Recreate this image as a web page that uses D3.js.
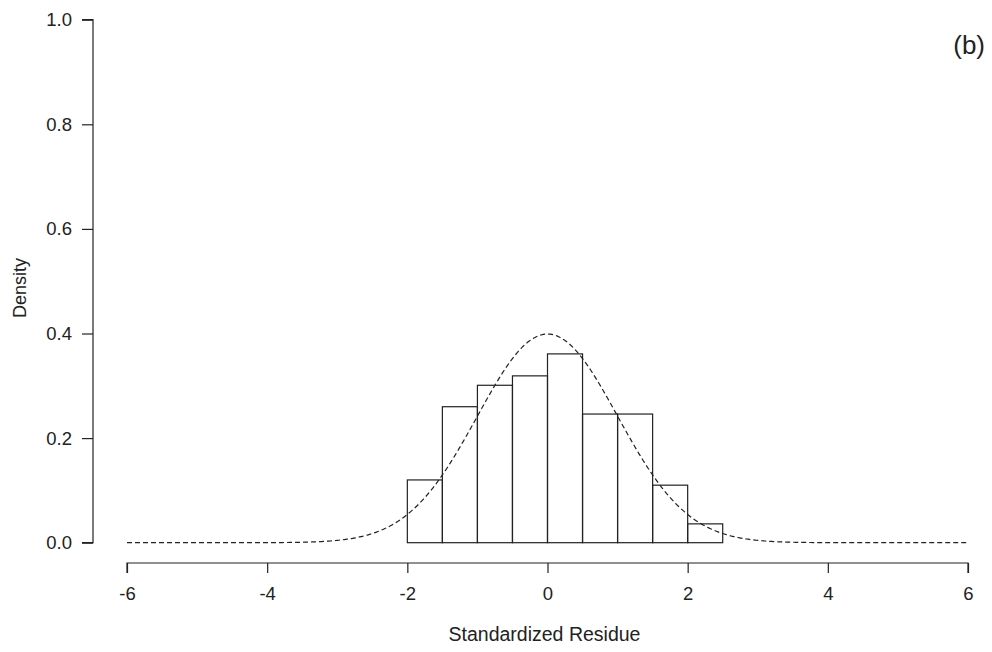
<!DOCTYPE html>
<html>
<head>
<meta charset="utf-8">
<script src="https://cdn.jsdelivr.net/npm/d3@7"></script>
<style>
  html, body { margin: 0; padding: 0; background: #fff; }
  svg { display: block; font-family: "Liberation Sans", Arial, sans-serif; }
</style>
</head>
<body>
<svg id="chart" width="992" height="652"></svg>
<script>
// Histogram bins of standardized residuals (bin width 0.5) and their densities
const binStarts = [-2.0, -1.5, -1.0, -0.5, 0.0, 0.5, 1.0, 1.5, 2.0];
const binWidth = 0.5;
const densities = [0.120, 0.260, 0.301, 0.319, 0.361, 0.246, 0.246, 0.110, 0.036];

// Axis ticks
const xTicks = [-6, -4, -2, 0, 2, 4, 6];
const yTicks = [0.0, 0.2, 0.4, 0.6, 0.8, 1.0];

// Reference standard normal density curve, sampled on a grid
const curveX = d3.range(-6, 6.0001, 0.02);
const normalPdf = x => Math.exp(-x * x / 2) / Math.sqrt(2 * Math.PI);

const svg = d3.select("#chart");
const ink = "#222";

const x = d3.scaleLinear().domain([-6, 6]).range([127, 968]);
const y = d3.scaleLinear().domain([0, 1]).range([542.7, 19.7]);

// Bars
svg.append("g")
  .selectAll("rect")
  .data(binStarts.map((s, i) => ({ x0: s, x1: s + binWidth, d: densities[i] })))
  .join("rect")
  .attr("x", d => x(d.x0))
  .attr("y", d => y(d.d))
  .attr("width", d => x(d.x1) - x(d.x0))
  .attr("height", d => y(0) - y(d.d))
  .attr("fill", "none")
  .attr("stroke", ink)
  .attr("stroke-width", 1.2);

// Normal density curve (dashed)
svg.append("path")
  .datum(curveX)
  .attr("d", d3.line().x(d => x(d)).y(d => y(normalPdf(d))))
  .attr("fill", "none")
  .attr("stroke", ink)
  .attr("stroke-width", 1.2)
  .attr("stroke-dasharray", "5,3");

// X axis (offset below the plot region)
const xAxis = svg.append("g")
  .attr("transform", "translate(0,563)")
  .call(d3.axisBottom(x).tickValues(xTicks).tickSize(10).tickPadding(14).tickFormat(d3.format("d")));
xAxis.select(".domain").attr("stroke", ink).attr("stroke-width", 1.2)
  .attr("d", `M${x(-6)},10V0H${x(6)}V10`);
xAxis.selectAll(".tick line").attr("stroke", ink).attr("stroke-width", 1.2);
xAxis.selectAll(".tick text").attr("fill", ink).style("font-size", "18.5px")
  .text(d => d < 0 ? "-" + Math.abs(d) : d);

// Y axis
const yAxis = svg.append("g")
  .attr("transform", "translate(93,0)")
  .call(d3.axisLeft(y).tickValues(yTicks).tickSize(11).tickPadding(10).tickFormat(d3.format(".1f")));
yAxis.select(".domain").attr("stroke", ink).attr("stroke-width", 1.2)
  .attr("d", `M-11,${y(0)}H0V${y(1)}H-11`);
yAxis.selectAll(".tick line").attr("stroke", ink).attr("stroke-width", 1.2);
yAxis.selectAll(".tick text").attr("fill", ink).style("font-size", "18.5px");

// Axis titles
svg.append("text")
  .attr("x", x(0) - 3).attr("y", 641)
  .attr("text-anchor", "middle")
  .attr("fill", ink).style("font-size", "19.5px")
  .text("Standardized Residue");

svg.append("text")
  .attr("transform", "translate(26,288) rotate(-90)")
  .attr("text-anchor", "middle")
  .attr("fill", ink).style("font-size", "18px")
  .text("Density");

// Panel label
svg.append("text")
  .attr("x", 985).attr("y", 54)
  .attr("text-anchor", "end")
  .attr("fill", ink).style("font-size", "26px")
  .text("(b)");
</script>
</body>
</html>
